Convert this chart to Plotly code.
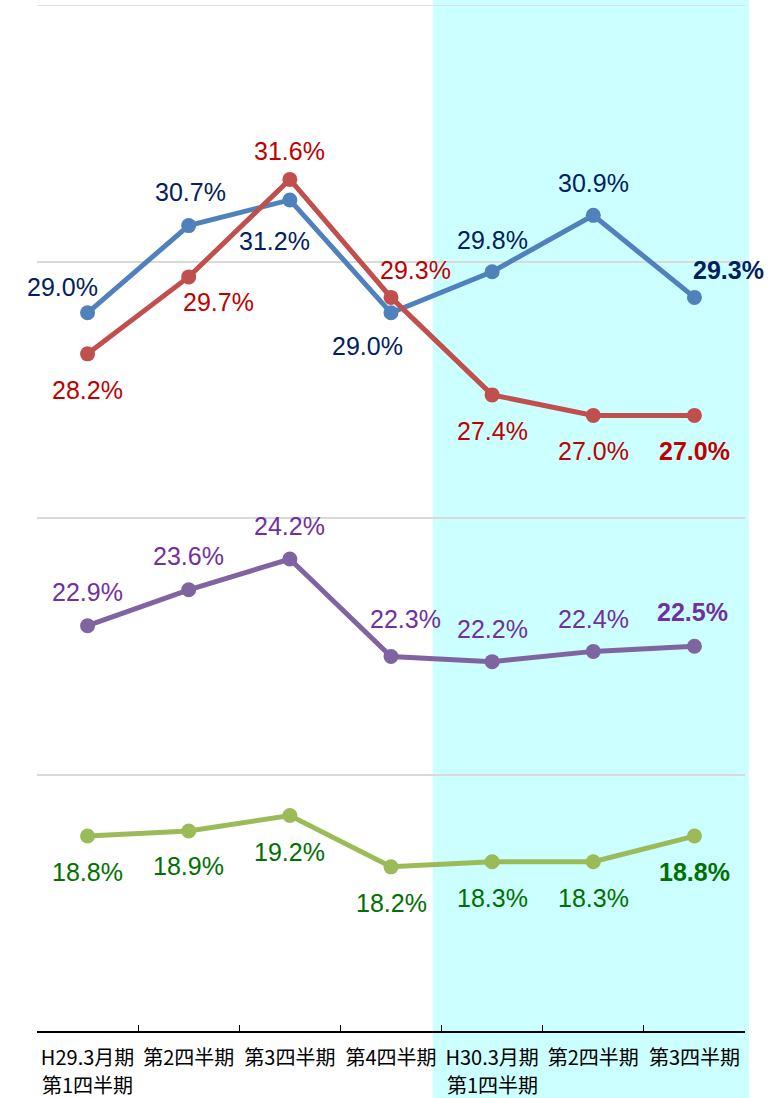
import plotly.graph_objects as go

# 四半期ラベル (1行目は目盛ラベル、2行目は注記)
quarters = ["H29.3月期", "第2四半期", "第3四半期", "第4四半期",
            "H30.3月期", "第2四半期", "第3四半期"]
quarters_sub = ["第1四半期", "", "", "", "第1四半期", "", ""]
cats = ["q1", "q2", "q3", "q4", "q5", "q6", "q7"]

blue_vals = [29.0, 30.7, 31.2, 29.0, 29.8, 30.9, 29.3]
red_vals = [28.2, 29.7, 31.6, 29.3, 27.4, 27.0, 27.0]
purple_vals = [22.9, 23.6, 24.2, 22.3, 22.2, 22.4, 22.5]
green_vals = [18.8, 18.9, 19.2, 18.2, 18.3, 18.3, 18.8]

# (値, 線色, 文字色, ラベルのずらし量 [(dx, dy), ...])
series = [
    (blue_vals, "#4F81BD", "#002060",
     [(-25, 26), (2, 34), (-15, -41), (-24, -33), (0, 32), (0, 32), (34, 27)]),
    (red_vals, "#C0504D", "#C00000",
     [(0, -36), (30, -25), (0, 28), (24, 27), (0, -36), (0, -36), (0, -36)]),
    (purple_vals, "#8064A2", "#7030A0",
     [(0, 34), (0, 34), (0, 33), (14, 38), (0, 33), (0, 32), (-2, 34)]),
    (green_vals, "#9BBB59", "#007000",
     [(0, -36), (0, -35), (0, -36), (0, -36), (0, -36), (0, -36), (0, -36)]),
]

fig = go.Figure()
annotations = []
for vals, line_col, text_col, offs in series:
    fig.add_trace(go.Scatter(
        x=cats, y=vals, mode="lines+markers",
        line=dict(color=line_col, width=5),
        marker=dict(color=line_col, size=15),
        showlegend=False, hoverinfo="skip",
    ))
    for i, (v, (dx, dy)) in enumerate(zip(vals, offs)):
        last = i == len(vals) - 1
        txt = f"{v:.1f}%"
        if last:
            txt = f"<b>{txt}</b>"
        annotations.append(dict(
            x=cats[i], y=v, xref="x", yref="y", text=txt, showarrow=False,
            xshift=dx, yshift=dy,
            font=dict(family="Liberation Sans, Arial", size=25, color=text_col),
        ))

for c, sub in zip(cats, quarters_sub):
    if sub:
        annotations.append(dict(
            x=c, y=-0.0526, xref="x", yref="paper", text=sub, showarrow=False,
            yanchor="middle",
            font=dict(family="Noto Sans CJK JP", size=20, color="black"),
        ))

# H30.3月期の網掛け
fig.add_shape(type="rect", xref="paper", yref="paper",
              x0=0.559, x1=1.0056, y0=-0.066, y1=1.006,
              fillcolor="#CCFFFF", line=dict(width=0), layer="below")
# 上端の目盛線
fig.add_shape(type="line", xref="paper", yref="y", x0=0, x1=1, y0=35, y1=35,
              line=dict(color="#D9D9D9", width=1.5), layer="below")

fig.update_layout(
    width=775, height=1098,
    margin=dict(l=37, r=30, t=5, b=67, autoexpand=False),
    paper_bgcolor="white", plot_bgcolor="rgba(0,0,0,0)",
    annotations=annotations,
    showlegend=False,
)
fig.update_xaxes(
    type="category", categoryorder="array", categoryarray=cats,
    tickvals=cats, ticktext=quarters, tickangle=0, automargin=False,
    range=[-0.5, 6.5], tickson="boundaries", ticklabelstandoff=8,
    ticks="inside", ticklen=6, tickcolor="black",
    showline=True, linecolor="black", linewidth=1.5,
    showgrid=False,
    tickfont=dict(family="Noto Sans CJK JP", size=20, color="black"),
)
fig.update_yaxes(
    range=[15, 35], dtick=5, showticklabels=False, automargin=False,
    showgrid=True, gridcolor="#D9D9D9", gridwidth=1.5,
    zeroline=False, showline=False,
)

fig.write_html("out.html", config={"displayModeBar": False},
               post_script="document.body.style.margin='0';")
